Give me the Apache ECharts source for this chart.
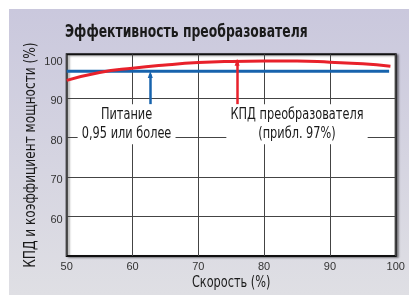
<!DOCTYPE html>
<html><head><meta charset="utf-8">
<script src="https://cdn.jsdelivr.net/npm/echarts@6/dist/echarts.min.js"></script>
<style>html,body{margin:0;padding:0;background:#fff}#c{width:409px;height:295px}</style>
</head><body><div id="c"></div>
<script>
const titleText = 'Эффективность преобразователя';
const xName = 'Скорость (%)';
const yName = 'КПД и коэффициент мощности (%)';
const xTicks = [50, 60, 70, 80, 90, 100];
const yTicks = [50, 60, 70, 80, 90, 100];
const gridY = [60, 70, 80, 90];
const effX = [50, 55, 60, 65, 70, 75, 80, 85, 90, 95, 99.2];
const effY = [94.4, 96.4, 97.5, 98.3, 98.9, 99.2, 99.3, 99.3, 99.0, 98.6, 98.0];
const pfX = [50, 99];
const pfY = [96.7, 96.7];
const pfLabel = 'Питание\n0,95 или более';
const effLabel = 'КПД преобразователя\n(прибл. 97%)';
const pfArrow = [[62.7, 88.3], [62.7, 95.9]];
const effArrow = [[75.9, 88.3], [75.9, 99.0]];
const pfLabelPos = [59.1, 83.3];
const effLabelPos = [85.0, 83.3];

const FONT = "'DejaVu Sans Condensed','DejaVu Sans',sans-serif";
const RED = '#e8212b', BLUE = '#1763ad';
const INK = '#1a1a1a';

const chart = echarts.init(document.getElementById('c'));
chart.setOption({
  animation: false,
  backgroundColor: '#fff',
  grid: {
    left: 66.7, right: 13.3, top: 54.3, bottom: 39, show: true,
    backgroundColor: '#fff', borderColor: '#111', borderWidth: 2,
    shadowColor: 'rgba(0,0,0,0.35)', shadowBlur: 2, shadowOffsetX: 2, shadowOffsetY: 1
  },
  xAxis: {
    type: 'value', min: xTicks[0], max: xTicks[xTicks.length - 1], interval: 10,
    axisLine: {show: false}, axisTick: {show: false},
    axisLabel: {fontFamily: 'Liberation Sans, Arial, sans-serif', fontSize: 11, color: '#333', margin: 5},
    splitLine: {show: true, lineStyle: {color: '#444', width: 1}}
  },
  yAxis: {
    type: 'value', min: yTicks[0], max: 101, interval: 10,
    axisLine: {show: false}, axisTick: {show: false},
    axisLabel: {fontFamily: 'Liberation Sans, Arial, sans-serif', fontSize: 11, color: '#333', margin: 4,
      verticalAlign: 'top', lineHeight: 7, showMinLabel: false,
      formatter: v => (yTicks.indexOf(v) >= 0 && v !== yTicks[0]) ? String(v) : ''},
    splitLine: {show: false}
  },
  series: [
    {
      type: 'line', data: pfX.map((x, i) => [x, pfY[i]]), symbol: 'none', z: 3,
      lineStyle: {color: BLUE, width: 3},
      markLine: {
        silent: true, symbol: 'none', label: {show: false},
        lineStyle: {color: '#444', width: 1, type: 'solid'},
        data: gridY.map(v => ({yAxis: v}))
      }
    },
    {
      type: 'line', data: effX.map((x, i) => [x, effY[i]]), symbol: 'none', smooth: true, z: 4,
      lineStyle: {color: RED, width: 3}
    },
    {
      type: 'line', data: [], z: 5,
      markLine: {
        silent: true, symbol: ['none', 'triangle'], symbolSize: [5, 7], label: {show: false},
        data: [
          [{coord: pfArrow[0], lineStyle: {color: BLUE, width: 2.5, type: 'solid'}}, {coord: pfArrow[1]}],
          [{coord: effArrow[0], lineStyle: {color: RED, width: 2.5, type: 'solid'}}, {coord: effArrow[1]}]
        ]
      }
    }
  ]
});

const toPx = c => chart.convertToPixel({gridIndex: 0}, c);
const x0 = toPx([xTicks[0], yTicks[0]]), x1 = toPx([xTicks[xTicks.length - 1], 101]);
const midX = (x0[0] + x1[0]) / 2, midY = (x0[1] + x1[1]) / 2;
const pL = toPx(pfLabelPos), eL = toPx(effLabelPos);
function annot(p, text) {
  return {
    type: 'text', x: p[0], y: p[1], scaleX: 0.84, z: 100,
    style: {text: text, font: '15px ' + FONT, fill: INK, align: 'center', verticalAlign: 'middle',
      lineHeight: 19, backgroundColor: '#fff', padding: [1, 5, 1, 5]}
  };
}
chart.setOption({
  graphic: [
    {
      type: 'rect', z: -10, silent: true,
      shape: {x: 9, y: 9, width: 400, height: 286},
      style: {fill: new echarts.graphic.LinearGradient(0, 0, 0, 1, [
        {offset: 0, color: '#cac8dd'}, {offset: 1, color: '#dfdfe4'}])}
    },
    {
      type: 'text', x: 65, y: 33, scaleX: 0.81, z: 100,
      style: {text: titleText, font: 'bold 17px ' + FONT, fill: INK, align: 'left', verticalAlign: 'middle'}
    },
    {
      type: 'text', x: midX, y: 283, scaleX: 0.84, z: 100,
      style: {text: xName, font: '15px ' + FONT, fill: INK, align: 'center', verticalAlign: 'middle'}
    },
    {
      type: 'text', x: 31.5, y: midY, rotation: Math.PI / 2, scaleX: 0.9, z: 100,
      style: {text: yName, font: '15px ' + FONT, fill: INK, align: 'center', verticalAlign: 'middle'}
    },
    annot(pL, pfLabel),
    annot(eL, effLabel)
  ]
});
</script></body></html>
